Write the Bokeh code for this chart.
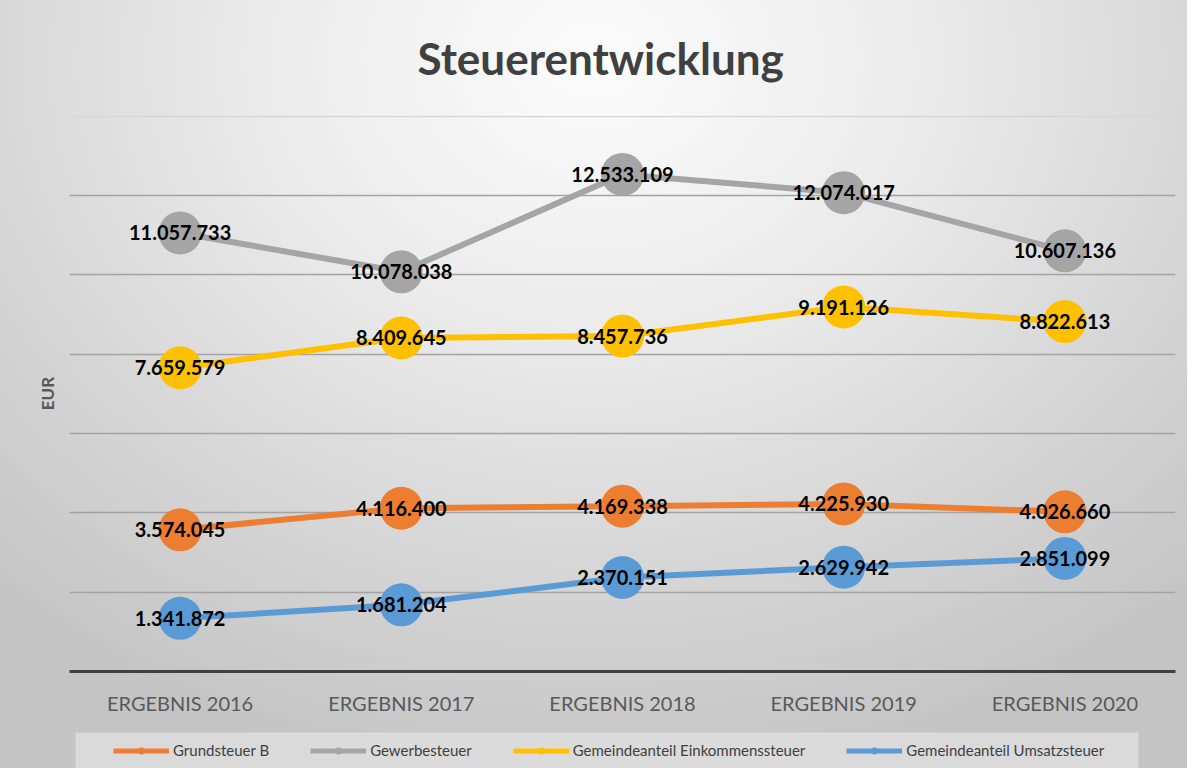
from bokeh.plotting import figure
from bokeh.layouts import column
from bokeh.models import (ColumnDataSource, FactorRange, FixedTicker, Legend, LegendItem, Title, Grid, Range1d)
from bokeh.core.properties import value
from bokeh.embed import file_html
from bokeh.resources import INLINE

categories = ["ERGEBNIS 2016", "ERGEBNIS 2017", "ERGEBNIS 2018", "ERGEBNIS 2019", "ERGEBNIS 2020"]
series_names = ["Grundsteuer B", "Gewerbesteuer", "Gemeindeanteil Einkommenssteuer", "Gemeindeanteil Umsatzsteuer"]
grundsteuer_b = [3574045, 4116400, 4169338, 4225930, 4026660]
gewerbesteuer = [11057733, 10078038, 12533109, 12074017, 10607136]
einkommenssteuer = [7659579, 8409645, 8457736, 9191126, 8822613]
umsatzsteuer = [1341872, 1681204, 2370151, 2629942, 2851099]
colors = ["#ED7D31", "#A5A5A5", "#FFC000", "#5B9BD5"]
y_ticks = [0, 2000000, 4000000, 6000000, 8000000, 10000000, 12000000]
y_top_tick = [14000000]

def fmt(v):
    return f"{v:,}".replace(",", ".")

p = figure(width=1187, height=732, output_backend="svg", toolbar_location=None,
           x_range=FactorRange(factors=categories, range_padding=0),
           y_range=(0, 14020000),
           min_border_left=69, min_border_right=12, min_border_top=115, min_border_bottom=61,
           border_fill_color=None, background_fill_color=None, outline_line_color=None)
p.frame_align = False

t = Title(text="Steuerentwicklung", align="left", vertical_align="top", text_font="Lato",
          text_font_style="bold", text_font_size="44px", text_color="#404040",
          offset=348, standoff=60)
p.add_layout(t, "above")

# axes
p.yaxis.ticker = FixedTicker(ticks=y_ticks)
p.yaxis.major_label_text_font_size = "0px"
p.yaxis.major_tick_out = 0
p.yaxis.major_tick_in = 0
p.yaxis.minor_tick_out = 0
p.yaxis.minor_tick_in = 0
p.yaxis.major_label_standoff = 0
p.yaxis.axis_line_color = None
p.yaxis.axis_label = "EUR"
p.yaxis.axis_label_text_font = "Lato"
p.yaxis.axis_label_text_font_style = "bold"
p.yaxis.axis_label_text_font_size = "17px"
p.yaxis.axis_label_text_color = "#595959"
p.yaxis.axis_label_standoff = 12

p.xaxis.major_tick_out = 0
p.xaxis.major_tick_in = 0
p.xaxis.axis_line_color = "#404040"
p.xaxis.axis_line_width = 3
p.xaxis.major_label_text_font = "Lato"
p.xaxis.major_label_text_font_size = "20px"
p.xaxis.major_label_text_color = "#595959"
p.xaxis.major_label_standoff = 19

p.xgrid.grid_line_color = None
p.ygrid.grid_line_color = "#a3a3a3"
p.ygrid.grid_line_width = 1.5
top_grid = Grid(dimension=1, ticker=FixedTicker(ticks=y_top_tick), grid_line_color="#d6d6d6", grid_line_width=1.5)
p.add_layout(top_grid)

series = [grundsteuer_b, gewerbesteuer, einkommenssteuer, umsatzsteuer]
sources = []
for vals in series:
    sources.append(ColumnDataSource(dict(x=categories, y=vals, lab=[fmt(v) for v in vals])))

for src, c in zip(sources, colors):
    p.line("x", "y", source=src, line_color=c, line_width=6)

for src, c in zip(sources, colors):
    p.scatter("x", "y", source=src, size=43, fill_color=c, line_color=None)

for src in sources:
    p.text("x", "y", text="lab", source=src, text_align="center", text_baseline="middle",
           text_font=value("Lato"), text_font_style="bold", text_font_size="20px", text_color="#000000")

# legend strip (separate figure below, its frame is the legend box; data kept out of its visible range)
p2 = figure(frame_width=1063, frame_height=36, output_backend="svg", toolbar_location=None,
            x_range=FactorRange(factors=categories, range_padding=0),
            y_range=Range1d(-2, -1), x_axis_type=None, y_axis_type=None,
            min_border_left=75, min_border_right=49, min_border_top=0, min_border_bottom=0,
            border_fill_color=None, background_fill_color="#dedede", background_fill_alpha=0.85,
            outline_line_color=None)
p2.frame_align = False
p2.xgrid.grid_line_color = None
p2.ygrid.grid_line_color = None
items = []
for name, src, c in zip(series_names, sources, colors):
    lr = p2.line("x", "y", source=src, line_color=c, line_width=5)
    sr = p2.scatter("x", "y", source=src, size=8, fill_color=c, line_color=None)
    items.append(LegendItem(label=name, renderers=[lr, sr]))

legend = Legend(items=items, orientation="horizontal", location=(38, 9),
                background_fill_alpha=0, border_line_color=None,
                label_text_font="Lato", label_text_font_size="15px",
                label_text_color="#404040", glyph_width=56, glyph_height=17, label_height=17,
                label_standoff=4, spacing=41, padding=0, margin=0)
p2.add_layout(legend, "center")

layout = column(p, p2, spacing=0,
                styles={"background": "radial-gradient(ellipse 75% 95% at 50% 8%, #fcfcfc 0%, #ececec 35%, #d6d6d6 70%, #c4c4c4 100%)"})

open("out.html", "w").write(file_html(layout, INLINE))
